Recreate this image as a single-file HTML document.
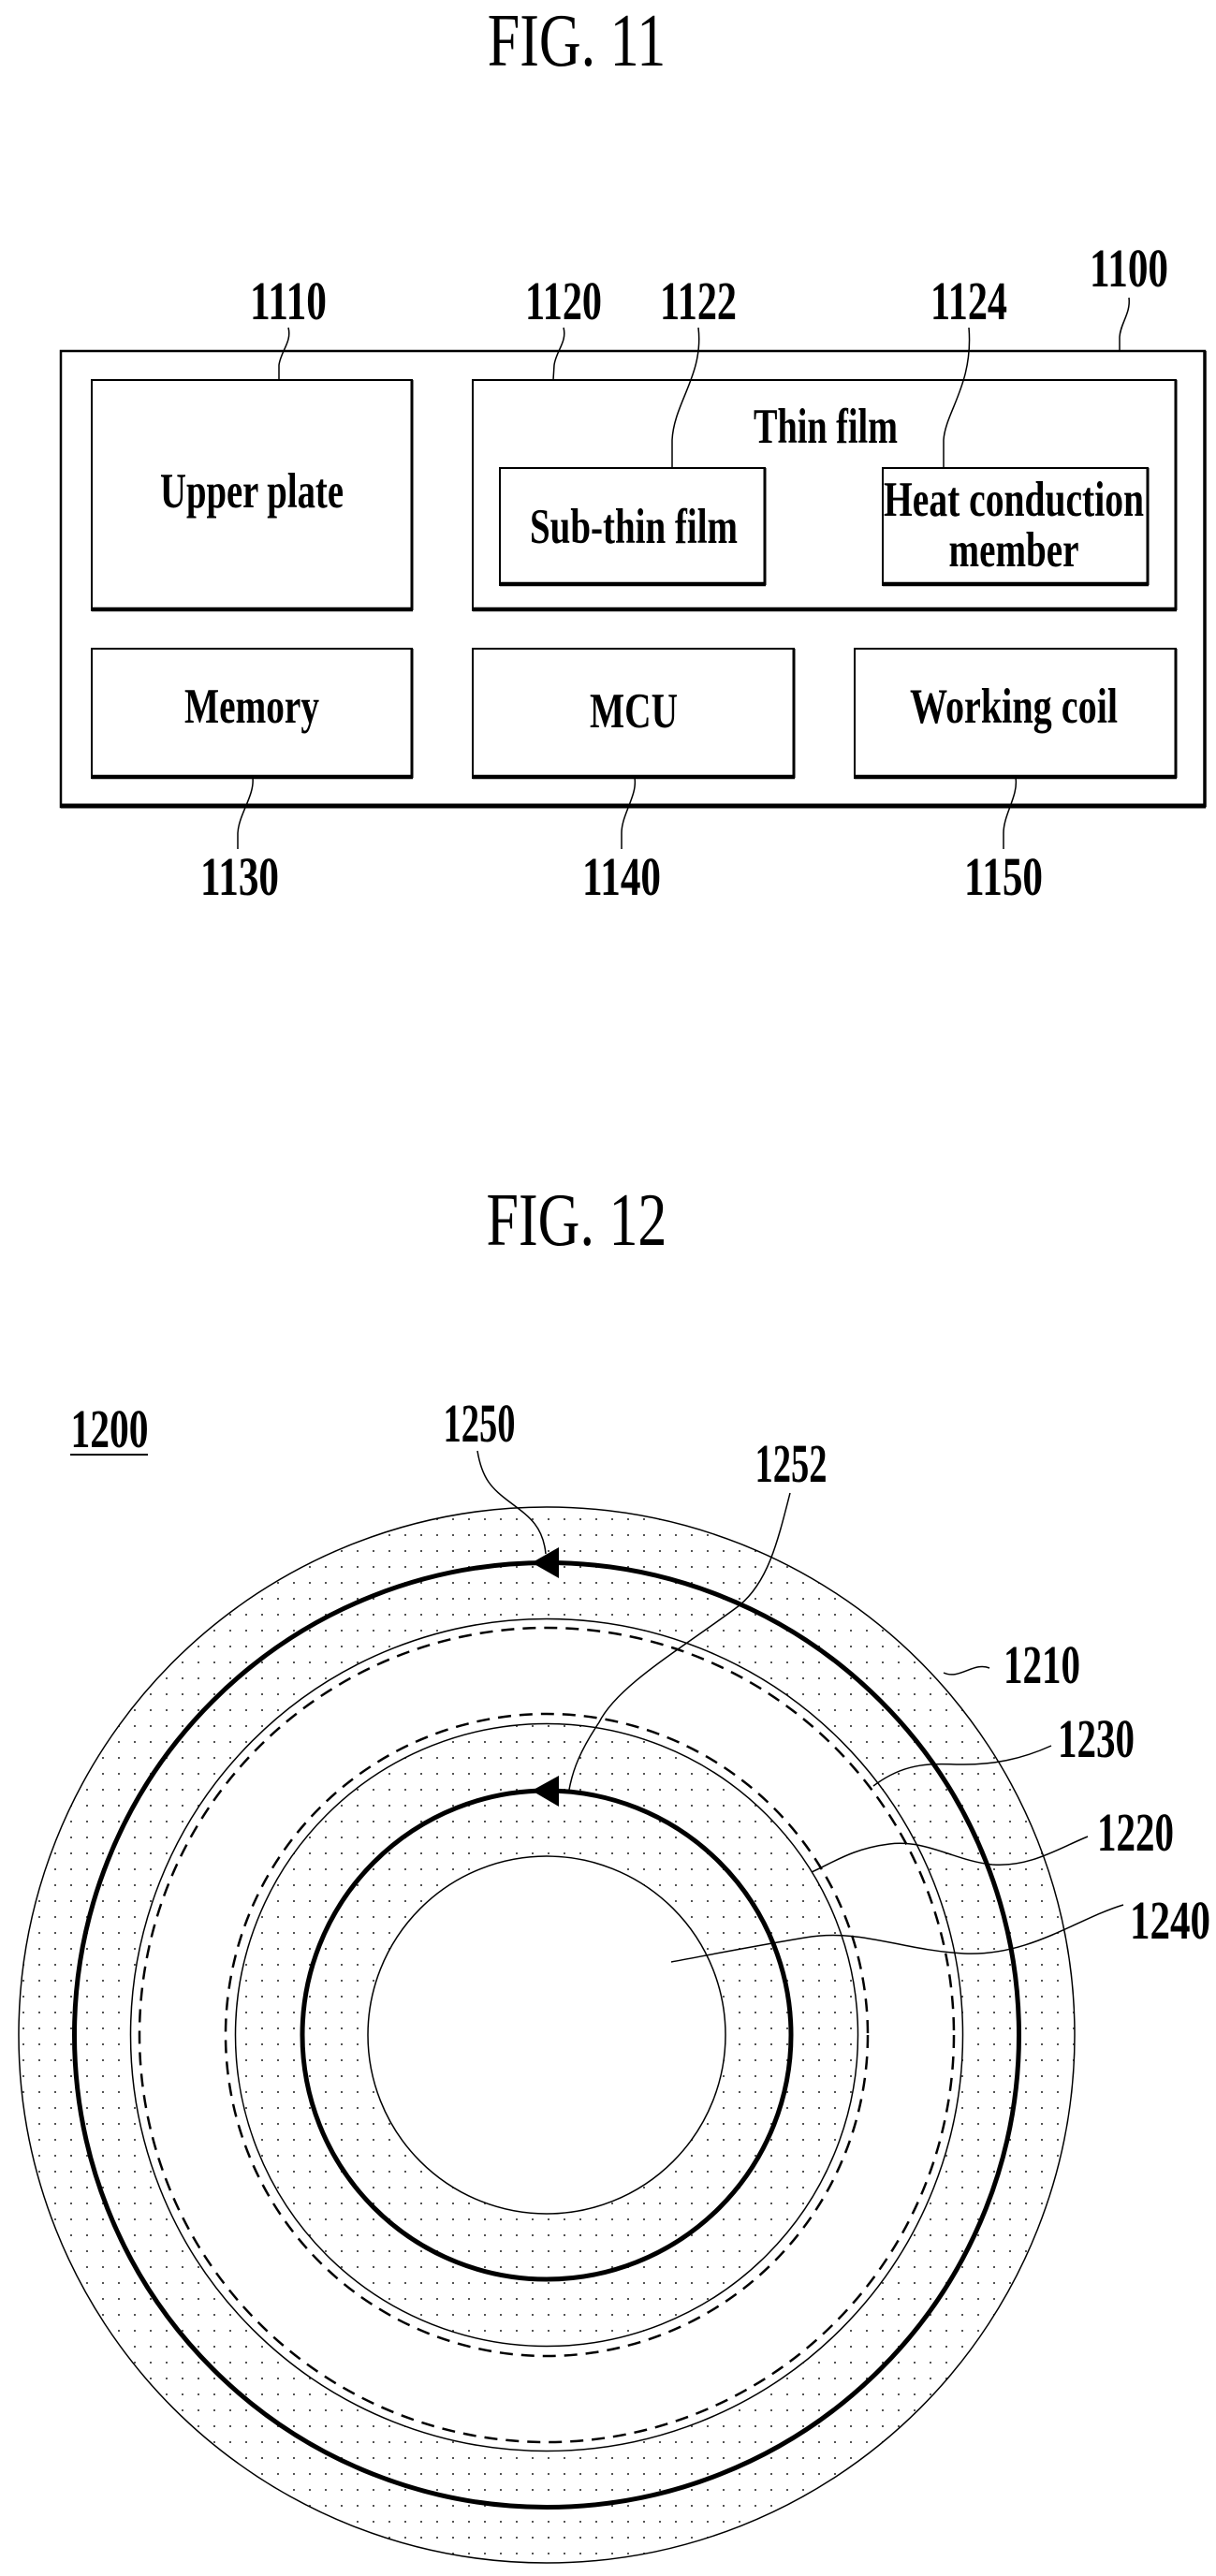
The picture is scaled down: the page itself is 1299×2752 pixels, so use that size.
<!DOCTYPE html>
<html><head><meta charset="utf-8"><style>
html,body{margin:0;padding:0;background:#fff;}
svg{display:block;}
text{font-family:"Liberation Serif",serif;fill:#000;}
</style></head><body>
<svg width="1299" height="2752" viewBox="0 0 1299 2752" xmlns="http://www.w3.org/2000/svg">
<defs>
<pattern id="dots" x="0" y="0" width="17" height="17" patternUnits="userSpaceOnUse">
<rect x="7" y="7" width="2" height="2" fill="#555"/>
</pattern>
</defs>

<!-- FIG 11 -->
<text transform="translate(616,70) scale(1,1.3)" font-size="62" text-anchor="middle">FIG. 11</text>

<g fill="none" stroke="#000">
<rect x="65" y="375" width="1222" height="487" stroke-width="2.5"/>
<line x1="65" y1="861" x2="1288" y2="861" stroke-width="5"/>
<line x1="1287" y1="375" x2="1287" y2="862" stroke-width="3.5"/>

<rect x="98" y="406" width="342" height="246" stroke-width="2"/>
<line x1="98" y1="651" x2="441" y2="651" stroke-width="4.5"/>
<line x1="440" y1="406" x2="440" y2="652" stroke-width="3"/>

<rect x="505" y="406" width="751" height="246" stroke-width="2"/>
<line x1="505" y1="651" x2="1257" y2="651" stroke-width="4.5"/>
<line x1="1256" y1="406" x2="1256" y2="652" stroke-width="3"/>

<rect x="534" y="500" width="283" height="125" stroke-width="2"/>
<line x1="534" y1="624" x2="818" y2="624" stroke-width="4.5"/>
<line x1="817" y1="500" x2="817" y2="625" stroke-width="3"/>

<rect x="943" y="500" width="283" height="125" stroke-width="2"/>
<line x1="943" y1="624" x2="1227" y2="624" stroke-width="4.5"/>
<line x1="1226" y1="500" x2="1226" y2="625" stroke-width="3"/>

<rect x="98" y="693" width="342" height="138" stroke-width="2"/>
<line x1="98" y1="830" x2="441" y2="830" stroke-width="4.5"/>
<line x1="440" y1="693" x2="440" y2="831" stroke-width="3"/>

<rect x="505" y="693" width="343" height="138" stroke-width="2"/>
<line x1="505" y1="830" x2="849" y2="830" stroke-width="4.5"/>
<line x1="848" y1="693" x2="848" y2="831" stroke-width="3"/>

<rect x="913" y="693" width="343" height="138" stroke-width="2"/>
<line x1="913" y1="830" x2="1257" y2="830" stroke-width="4.5"/>
<line x1="1256" y1="693" x2="1256" y2="831" stroke-width="3"/>

<g stroke-width="1.5">
<path d="M308,350 C312,365 300,375 298,390 L298,406"/>
<path d="M602,350 C606,365 594,375 592,390 L591,406"/>
<path d="M746,350 C752,400 720,430 718,470 L718,500"/>
<path d="M1035,350 C1040,410 1010,440 1008,470 L1008,500"/>
<path d="M1206,318 C1208,335 1197,345 1196,360 L1196,375"/>
<path d="M270,831 C272,850 255,870 254,890 L254,907"/>
<path d="M678,831 C681,850 664,870 664,890 L664,907"/>
<path d="M1085,831 C1088,850 1072,870 1072,890 L1072,907"/>
</g>
</g>

<g font-weight="bold">
<text transform="translate(308,341) scale(1,1.45)" font-size="40" text-anchor="middle" textLength="82" lengthAdjust="spacingAndGlyphs">1110</text>
<text transform="translate(602,341) scale(1,1.45)" font-size="40" text-anchor="middle" textLength="82" lengthAdjust="spacingAndGlyphs">1120</text>
<text transform="translate(746,341) scale(1,1.45)" font-size="40" text-anchor="middle" textLength="82" lengthAdjust="spacingAndGlyphs">1122</text>
<text transform="translate(1035,341) scale(1,1.45)" font-size="40" text-anchor="middle" textLength="82" lengthAdjust="spacingAndGlyphs">1124</text>
<text transform="translate(1206,306) scale(1,1.45)" font-size="40" text-anchor="middle" textLength="84" lengthAdjust="spacingAndGlyphs">1100</text>
<text transform="translate(256,956) scale(1,1.45)" font-size="40" text-anchor="middle" textLength="84" lengthAdjust="spacingAndGlyphs">1130</text>
<text transform="translate(664,956) scale(1,1.45)" font-size="40" text-anchor="middle" textLength="84" lengthAdjust="spacingAndGlyphs">1140</text>
<text transform="translate(1072,956) scale(1,1.45)" font-size="40" text-anchor="middle" textLength="84" lengthAdjust="spacingAndGlyphs">1150</text>

<text transform="translate(269,542) scale(1,1.4)" font-size="38" text-anchor="middle" textLength="196" lengthAdjust="spacingAndGlyphs">Upper plate</text>
<text transform="translate(882,473) scale(1,1.4)" font-size="38" text-anchor="middle" textLength="154" lengthAdjust="spacingAndGlyphs">Thin film</text>
<text transform="translate(677,580) scale(1,1.4)" font-size="38" text-anchor="middle" textLength="222" lengthAdjust="spacingAndGlyphs">Sub-thin film</text>
<text transform="translate(1083,551) scale(1,1.4)" font-size="38" text-anchor="middle" textLength="278" lengthAdjust="spacingAndGlyphs">Heat conduction</text>
<text transform="translate(1083,605) scale(1,1.4)" font-size="38" text-anchor="middle" textLength="139" lengthAdjust="spacingAndGlyphs">member</text>
<text transform="translate(269,772) scale(1,1.4)" font-size="38" text-anchor="middle" textLength="144" lengthAdjust="spacingAndGlyphs">Memory</text>
<text transform="translate(677,777) scale(1,1.4)" font-size="38" text-anchor="middle" textLength="94" lengthAdjust="spacingAndGlyphs">MCU</text>
<text transform="translate(1083,772) scale(1,1.4)" font-size="38" text-anchor="middle" textLength="222" lengthAdjust="spacingAndGlyphs">Working coil</text>
</g>

<!-- FIG 12 -->
<text transform="translate(616,1330) scale(1,1.3)" font-size="62" text-anchor="middle">FIG. 12</text>

<path fill="url(#dots)" fill-rule="evenodd" d="M584,1610 a564,564 0 1,0 0.01,0 Z M584,1729.5 a444.5,444.5 0 1,0 0.01,0 Z"/>
<path fill="url(#dots)" fill-rule="evenodd" d="M584,1841.5 a332.5,332.5 0 1,0 0.01,0 Z M584,1983 a191,191 0 1,0 0.01,0 Z"/>

<g fill="none" stroke="#000">
<circle cx="584" cy="2174" r="564" stroke-width="1.5"/>
<circle cx="584" cy="2174" r="504.5" stroke-width="5"/>
<circle cx="584" cy="2174" r="444.5" stroke-width="1.5"/>
<circle cx="584" cy="2174" r="435" stroke-width="2.5" stroke-dasharray="14,9"/>
<circle cx="584" cy="2174" r="343" stroke-width="2.5" stroke-dasharray="14,9"/>
<circle cx="584" cy="2174" r="332.5" stroke-width="1.5"/>
<circle cx="584" cy="2174" r="261" stroke-width="5"/>
<circle cx="584" cy="2174" r="191" stroke-width="1.5"/>

<g stroke-width="1.5">
<path d="M510,1550 C515,1580 525,1590 545,1605 C565,1620 580,1630 583,1660"/>
<path d="M844,1595 C830,1650 820,1690 790,1715 C730,1760 660,1800 640,1840 C620,1870 612,1890 608,1912"/>
<path d="M1057,1782 C1040,1775 1025,1795 1008,1787"/>
<path d="M1123,1865 C1090,1880 1060,1885 1030,1885 C1000,1885 970,1880 933,1908"/>
<path d="M1162,1962 C1130,1975 1100,1995 1060,1992 C1020,1988 990,1965 950,1970 C910,1975 890,1990 867,2000"/>
<path d="M1200,2035 C1150,2050 1100,2090 1030,2087 C960,2083 920,2060 860,2070 C800,2080 760,2088 717,2096"/>
</g>
</g>
<polygon points="568,1669.5 597,1653 597,1686" fill="#000"/>
<polygon points="568,1913 597,1897 597,1930" fill="#000"/>

<g font-weight="bold">
<text transform="translate(117,1546) scale(1,1.45)" font-size="40" text-anchor="middle" textLength="83" lengthAdjust="spacingAndGlyphs">1200</text>
<line x1="75" y1="1554" x2="158" y2="1554" stroke="#000" stroke-width="2"/>
<text transform="translate(512,1540) scale(1,1.45)" font-size="40" text-anchor="middle" textLength="77" lengthAdjust="spacingAndGlyphs">1250</text>
<text transform="translate(845,1583) scale(1,1.45)" font-size="40" text-anchor="middle" textLength="77" lengthAdjust="spacingAndGlyphs">1252</text>
<text transform="translate(1113,1798) scale(1,1.45)" font-size="40" text-anchor="middle" textLength="82" lengthAdjust="spacingAndGlyphs">1210</text>
<text transform="translate(1171,1877) scale(1,1.45)" font-size="40" text-anchor="middle" textLength="82" lengthAdjust="spacingAndGlyphs">1230</text>
<text transform="translate(1213,1977) scale(1,1.45)" font-size="40" text-anchor="middle" textLength="82" lengthAdjust="spacingAndGlyphs">1220</text>
<text transform="translate(1250,2071) scale(1,1.45)" font-size="40" text-anchor="middle" textLength="86" lengthAdjust="spacingAndGlyphs">1240</text>
</g>
</svg>
</body></html>
